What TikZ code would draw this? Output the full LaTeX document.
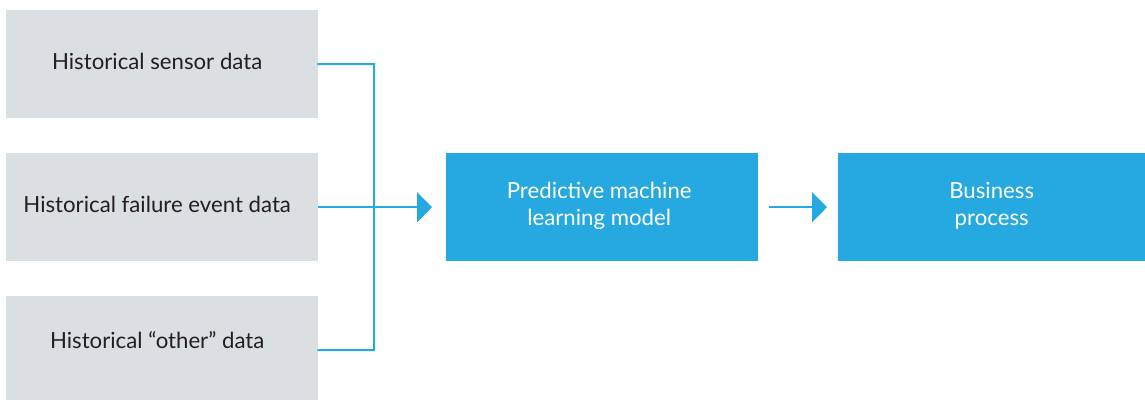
\documentclass[tikz,border=0pt]{standalone}
\usepackage{fontspec}
\setmainfont{Lato}
\usetikzlibrary{arrows.meta}
\definecolor{boxgrey}{HTML}{DADFE1}
\definecolor{flowblue}{HTML}{25A9E0}
\definecolor{textdark}{HTML}{231F20}
\tikzset{
  boxfont/.style={font=\fontsize{22.2}{27}\selectfont, align=center, inner sep=0pt},
  greybox/.style={fill=boxgrey, draw=none, inner sep=0pt, minimum width=312pt, minimum height=108pt, anchor=north west},
  greytext/.style={boxfont, text=textdark, xshift=-5pt, yshift=2.5pt},
  bluebox/.style={fill=flowblue, draw=none, inner sep=0pt, minimum width=312pt, minimum height=108pt, anchor=north west},
  bluetext/.style={boxfont, text=white, xshift=-3pt, yshift=1pt},
  link/.style={draw=flowblue, line width=2pt},
  flowarrow/.style={link, -{Triangle[length=15pt,width=30pt]}}
}
\begin{document}
\begin{tikzpicture}[x=1pt,y=-1pt]
\clip (0,0) rectangle (1145,399);
\node[greybox, label={[greytext]center:Historical sensor data}] (g1) at (6,10) {};
\node[greybox, label={[greytext]center:Historical failure event data}] (g2) at (6,153) {};
\node[greybox, label={[greytext, yshift=8pt]center:Historical “other” data}] (g3) at (6,296) {};
\node[bluebox, label={[bluetext]center:Predictive machine\\learning model}] (m1) at (446,153) {};
\node[bluebox, minimum width=307pt, label={[bluetext, xshift=3pt]center:Business\\process}] (m2) at (838,153) {};
\coordinate (j1) at (374,64);
\coordinate (j3) at (374,350);
\draw[link, line cap=rect] (g1.east) -- (j1) -- (j3) -- (g3.east);
\draw[flowarrow, shorten >=14pt] (g2.east) -- (m1.west);
\draw[flowarrow, shorten <=11pt, shorten >=11pt] (m1.east) -- (m2.west);
\end{tikzpicture}
\end{document}
